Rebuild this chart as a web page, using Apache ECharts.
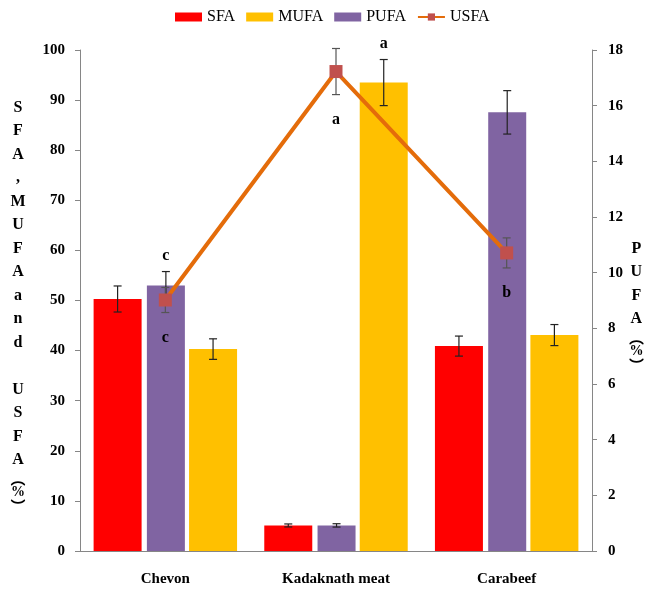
<!DOCTYPE html>
<html><head><meta charset="utf-8">
<script src="https://cdn.jsdelivr.net/npm/echarts@6/dist/echarts.min.js"></script>
<style>html,body{margin:0;padding:0;background:#fff}#c{width:650px;height:592px}</style>
</head><body><div id="c"></div>
<script>
// ---- data ----
const categories = ['Chevon', 'Kadaknath meat', 'Carabeef'];
const sfa = [50.3, 5.1, 40.9];
const sfaErr = [2.6, 0.3, 2.0];
const mufa = [40.3, 93.5, 43.1];
const mufaErr = [2.05, 4.6, 2.1];
const pufa = [9.54, 0.92, 15.76];      // right axis
const pufaErr = [0.5, 0.06, 0.78];
const usfa = [50.1, 95.7, 59.5];       // left axis
const usfaErr = [2.5, 4.6, 3.0];
const usfaLetters = ['c', 'a', 'b'];
const pufaLetters = ['c', '', ''];
const mufaLetters = ['', 'a', ''];
const leftMax = 100, leftStep = 10;
const rightMax = 18, rightStep = 2;
const leftName = ['S','F','A',',','M','U','F','A','a','n','d',' ','U','S','F','A'];
const rightName = ['P','U','F','A'];

// ---- styling / layout ----
const serif = 'Liberation Serif';
const barW = [48, 38, 48];  // SFA, PUFA, MUFA
const gapPct = 0.11;
const offsets = (function () {
  let total = 0;
  barW.forEach(w => { total += w * (1 + gapPct); });
  total -= barW[barW.length - 1] * gapPct;
  let off = -total / 2; const res = [];
  barW.forEach(w => { res.push(off + w / 2); off += w * (1 + gapPct); });
  return res;
})();

function nameText(chars) {
  return chars.map(c => '{L|' + c + '}').join('\n') + '\n{p|︵}\n{q|%}\n{p|︶}';
}

function errSeries(vals, errs, yIdx, offset, color, topLetters, botLetters) {
  return {
    type: 'custom', yAxisIndex: yIdx, z: 5, silent: true,
    data: vals.map((v, i) => [i, v, errs[i]]),
    renderItem: function (params, api) {
      const i = api.value(0), v = api.value(1), e = api.value(2);
      const x = api.coord([i, v])[0] + offset;
      const top = api.coord([i, v + e])[1];
      const bot = api.coord([i, v - e])[1];
      const st = { stroke: color, lineWidth: 1.2 };
      const ch = [
        { type: 'line', shape: { x1: x, y1: top, x2: x, y2: bot }, style: st },
        { type: 'line', shape: { x1: x - 4, y1: top, x2: x + 4, y2: top }, style: st },
        { type: 'line', shape: { x1: x - 4, y1: bot, x2: x + 4, y2: bot }, style: st }
      ];
      const tl = topLetters ? topLetters[params.dataIndex] : '';
      const bl = botLetters ? botLetters[params.dataIndex] : '';
      const ts = { fontFamily: serif, fontWeight: 'bold', fontSize: 16, fill: '#000', align: 'center', verticalAlign: 'middle' };
      if (tl) ch.push({ type: 'text', style: Object.assign({ text: tl, x: x, y: top - 16 }, ts) });
      if (bl) ch.push({ type: 'text', style: Object.assign({ text: bl, x: x, y: bot + 25 }, ts) });
      return { type: 'group', children: ch };
    }
  };
}

const axisGray = '#868686';
const tickFont = { fontFamily: serif, fontWeight: 'bold', fontSize: 15, color: '#000' };
const richName = {
  L: { fontFamily: serif, fontWeight: 'bold', fontSize: 16, lineHeight: 23.5, color: '#000' },
  p: { fontFamily: 'Noto Sans CJK SC', fontWeight: 'bold', fontSize: 15, lineHeight: 13, color: '#000' },
  q: { fontFamily: serif, fontWeight: 'bold', fontSize: 14, lineHeight: 15, color: '#000' }
};

const chart = echarts.init(document.getElementById('c'), null, { renderer: 'canvas' });
chart.setOption({
  animation: false,
  backgroundColor: '#fff',
  grid: { left: 80, right: 58, top: 50, bottom: 41, containLabel: false },
  legend: {
    data: [
      { name: 'SFA', icon: 'rect' },
      { name: 'MUFA', icon: 'rect' },
      { name: 'PUFA', icon: 'rect' },
      { name: 'USFA' }
    ],
    left: 170, top: 4, itemWidth: 27, itemHeight: 9, itemGap: 11,
    textStyle: { fontFamily: serif, fontSize: 16, color: '#000' }
  },
  xAxis: {
    type: 'category', data: categories,
    axisLine: { lineStyle: { color: axisGray } },
    axisTick: { length: 5, lineStyle: { color: axisGray } },
    axisLabel: Object.assign({ margin: 21, fontSize: 15 }, tickFont)
  },
  yAxis: [
    {
      type: 'value', min: 0, max: leftMax, interval: leftStep,
      axisLine: { show: true, lineStyle: { color: axisGray } },
      axisTick: { show: true, length: 5, lineStyle: { color: axisGray } },
      splitLine: { show: false },
      axisLabel: Object.assign({ margin: 15 }, tickFont),
      name: nameText(leftName), nameLocation: 'middle', nameRotate: 0, nameGap: 62,
      nameTextStyle: { align: 'center', verticalAlign: 'middle', rich: richName, padding: [8, 0, 0, 0] }
    },
    {
      type: 'value', min: 0, max: rightMax, interval: rightStep, position: 'right',
      axisLine: { show: true, lineStyle: { color: axisGray } },
      axisTick: { show: true, length: 5, lineStyle: { color: axisGray } },
      splitLine: { show: false },
      axisLabel: Object.assign({ margin: 16 }, tickFont),
      name: nameText(rightName), nameLocation: 'middle', nameRotate: 0, nameGap: 42,
      nameTextStyle: { align: 'center', verticalAlign: 'middle', rich: richName, padding: [8, 0, 0, 0] }
    }
  ],
  series: [
    { name: 'SFA', type: 'bar', data: sfa, barWidth: barW[0], barGap: (gapPct * 100) + '%', itemStyle: { color: '#FF0000' } },
    { name: 'PUFA', type: 'bar', yAxisIndex: 1, data: pufa, barWidth: barW[1], barGap: (gapPct * 100) + '%', itemStyle: { color: '#8064A2' } },
    { name: 'MUFA', type: 'bar', data: mufa, barWidth: barW[2], barGap: (gapPct * 100) + '%', itemStyle: { color: '#FFC000' } },
    errSeries(sfa, sfaErr, 0, offsets[0], '#222', null, null),
    errSeries(pufa, pufaErr, 1, offsets[1], '#222', pufaLetters, null),
    errSeries(mufa, mufaErr, 0, offsets[2], '#222', mufaLetters, null),
    errSeries(usfa, usfaErr, 0, 0, '#555', null, usfaLetters),
    {
      name: 'USFA', type: 'line', data: usfa, z: 10,
      symbol: 'rect', symbolSize: 13,
      lineStyle: { color: '#E46C0A', width: 4 },
      itemStyle: { color: '#C0504D' }
    }
  ]
});
</script>
</body></html>
